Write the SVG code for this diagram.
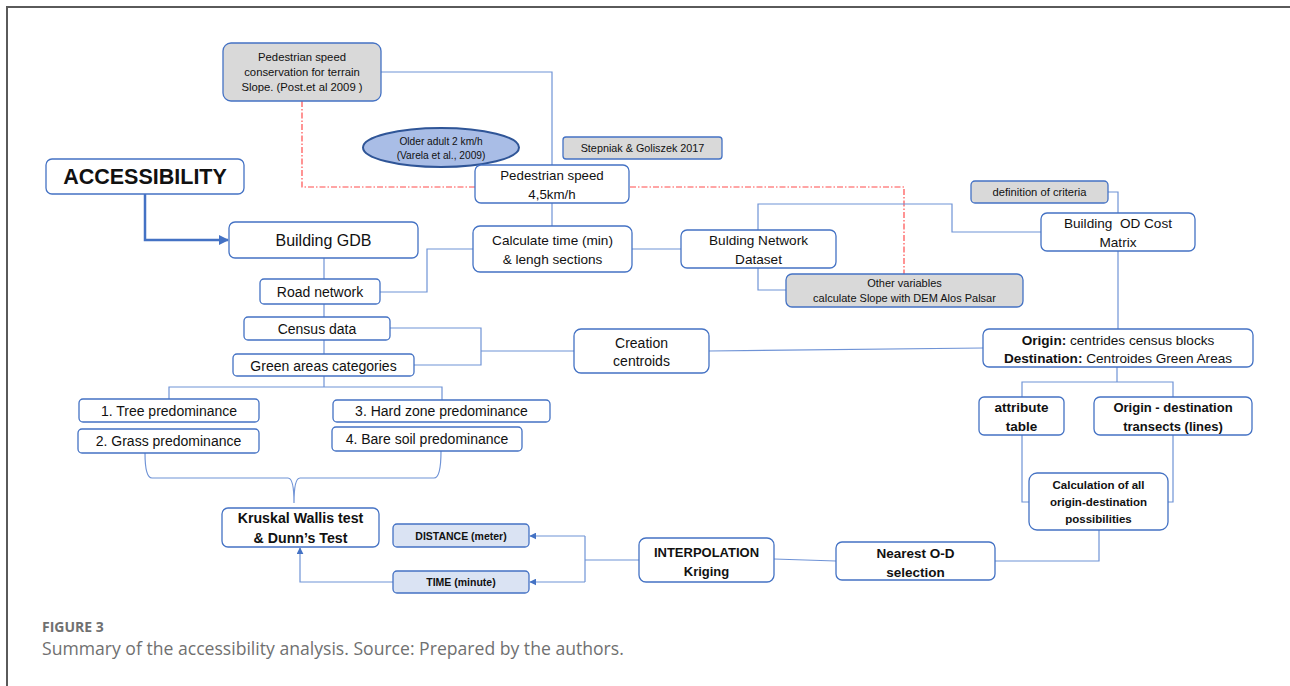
<svg xmlns="http://www.w3.org/2000/svg" width="1290" height="686" viewBox="0 0 1290 686">
<defs>
<marker id="ah" viewBox="0 0 10 10" refX="9" refY="5" markerWidth="7" markerHeight="7" orient="auto" markerUnits="userSpaceOnUse">
<path d="M0,0 L10,5 L0,10 z" fill="#4472c4"/>
</marker>
<marker id="ah2" viewBox="0 0 10 10" refX="9" refY="5" markerWidth="10" markerHeight="10" orient="auto" markerUnits="userSpaceOnUse">
<path d="M0,0 L10,5 L0,10 z" fill="#4472c4"/>
</marker>
<style>
.n{fill:#fff;stroke:#4472c4;stroke-width:1.3}
.g{fill:#d9d9d9;stroke:#4472c4;stroke-width:1.3}
.b{fill:#dae3f3;stroke:#4472c4;stroke-width:1.3}
.c{fill:none;stroke:#6f93d6;stroke-width:1.2}
.t{font-family:"Liberation Sans",Arial,sans-serif;fill:#111;text-anchor:middle;dominant-baseline:central}
.bd{font-weight:bold}
.cap{font-family:"Open Sans","Liberation Sans",sans-serif;fill:#707070}
</style>
</defs>
<rect x="0" y="0" width="1290" height="686" fill="#fff"/>
<path d="M7,686 V7 H1290" fill="none" stroke="#5a5a5a" stroke-width="2"/>

<g id="connectors">
<path class="c" d="M381,72 H552 V165"/>
<path d="M302,101 V187 H904 V274" fill="none" stroke="#ff4d4d" stroke-width="1.2" stroke-dasharray="6,2,1.5,2"/>
<path class="c" d="M552,203 V226"/>
<path d="M145,194 V240 H228" fill="none" stroke="#4472c4" stroke-width="2.5" marker-end="url(#ah2)"/>
<path class="c" d="M324,258 V279"/>
<path class="c" d="M380,292 H427 V249 H473"/>
<path class="c" d="M632,249 H681"/>
<path class="c" d="M758,230 V204 H952 V232 H1041"/>
<path class="c" d="M758,268 V290 H786"/>
<path class="c" d="M1108,192 H1118 V213"/>
<path class="c" d="M1118,251 V329"/>
<path class="c" d="M324,304 V317"/>
<path class="c" d="M324,340 V354"/>
<path class="c" d="M390,328 H481 V365 H414 M481,351 H574"/>
<path class="c" d="M709,351 L983,348"/>
<path class="c" d="M324,376 V387 M169,399 V387 H442 V400"/>
<path class="c" d="M145,453 Q145,478 152,478 L288,478 Q294,478 294,503 Q294,478 300,478 L434,478 Q441,478 441,451"/>
<path class="c" d="M1117,367 V382 M1022,397 V382 H1173 V397"/>
<path class="c" d="M1022,435 V502 H1029 M1173,435 V502 H1168"/>
<path class="c" d="M1099,530 V561 H995"/>
<path class="c" d="M836,561 L774,559"/>
<path class="c" d="M639,560 H585 M585,536 V582"/>
<path class="c" d="M585,536 H530" marker-end="url(#ah)"/>
<path class="c" d="M585,582 H530" marker-end="url(#ah)"/>
<path class="c" d="M393,582 H300 V548" marker-end="url(#ah)"/>
</g>

<g id="n-conservation"><rect class="g" x="223" y="43" width="158" height="58" rx="8"/>
<text class="t" font-size="11.3" x="302" y="57">Pedestrian speed</text>
<text class="t" font-size="11.3" x="302" y="72">conservation for terrain</text>
<text class="t" font-size="11.3" x="302" y="87">Slope. (Post.et al 2009 )</text></g>

<g id="n-older"><ellipse cx="441" cy="147.5" rx="78" ry="19.5" fill="#a9bde6" stroke="#2f5597" stroke-width="2"/>
<text class="t" font-size="10.2" x="441" y="141">Older adult 2 km/h</text>
<text class="t" font-size="10.2" x="441" y="155">(Varela et al., 2009)</text></g>

<g id="n-stepniak"><rect class="g" x="563" y="137" width="159" height="22" rx="3"/>
<text class="t" font-size="10.8" x="642.5" y="148">Stepniak &amp; Goliszek 2017</text></g>

<g id="n-pedspeed"><rect class="n" x="475" y="165" width="154" height="38" rx="6"/>
<text class="t" font-size="13.3" x="552" y="175">Pedestrian speed</text>
<text class="t" font-size="13.3" x="552" y="194">4,5km/h</text></g>

<g id="n-accessibility"><rect class="n" x="46" y="159" width="198" height="35" rx="6"/>
<text class="t bd" font-size="21.5" x="145" y="177">ACCESSIBILITY</text></g>

<g id="n-gdb"><rect class="n" x="229" y="222" width="189" height="36" rx="6"/>
<text class="t" font-size="16" x="323.5" y="240">Building GDB</text></g>

<g id="n-calc"><rect class="n" x="473" y="226" width="159" height="46" rx="7"/>
<text class="t" font-size="13.6" x="552.5" y="240">Calculate time (min)</text>
<text class="t" font-size="13.6" x="552.5" y="259">&amp; lengh sections</text></g>

<g id="n-network"><rect class="n" x="681" y="230" width="155" height="38" rx="6"/>
<text class="t" font-size="13.6" x="758.5" y="240">Bulding Network</text>
<text class="t" font-size="13.6" x="758.5" y="259">Dataset</text></g>

<g id="n-other"><rect class="g" x="786" y="274" width="237" height="33" rx="6"/>
<text class="t" font-size="11" x="904.5" y="283">Other variables</text>
<text class="t" font-size="11" x="904.5" y="298">calculate Slope with DEM Alos Palsar</text></g>

<g id="n-criteria"><rect class="g" x="971" y="181" width="137" height="22" rx="4"/>
<text class="t" font-size="11.2" x="1039.5" y="192">definition of criteria</text></g>

<g id="n-odmatrix"><rect class="n" x="1041" y="213" width="154" height="38" rx="6"/>
<text class="t" font-size="13.6" x="1118" y="223" style="white-space:pre">Building  OD Cost</text>
<text class="t" font-size="13.6" x="1118" y="242">Matrix</text></g>

<g id="n-origin"><rect class="n" x="983" y="329" width="270" height="38" rx="6"/>
<text class="t" font-size="13.6" x="1118" y="340"><tspan class="bd">Origin:</tspan> centrides census blocks</text>
<text class="t" font-size="13.6" x="1118" y="358"><tspan class="bd">Destination:</tspan> Centroides Green Areas</text></g>

<g id="n-creation"><rect class="n" x="574" y="329" width="135" height="44" rx="7"/>
<text class="t" font-size="14" x="641.5" y="343">Creation</text>
<text class="t" font-size="14" x="641.5" y="361">centroids</text></g>

<g id="n-road"><rect class="n" x="260" y="279" width="120" height="25" rx="4"/>
<text class="t" font-size="14" x="320" y="292">Road network</text></g>

<g id="n-census"><rect class="n" x="244" y="317" width="146" height="23" rx="4"/>
<text class="t" font-size="14" x="317" y="329">Census data</text></g>

<g id="n-green"><rect class="n" x="233" y="354" width="181" height="22" rx="4"/>
<text class="t" font-size="14" x="323.5" y="366">Green areas categories</text></g>

<g id="n-tree"><rect class="n" x="79" y="399" width="180" height="23" rx="4"/>
<text class="t" font-size="14" x="169" y="411">1. Tree predominance</text></g>

<g id="n-grass"><rect class="n" x="78" y="429" width="181" height="24" rx="4"/>
<text class="t" font-size="14" x="168.5" y="441">2. Grass predominance</text></g>

<g id="n-hard"><rect class="n" x="333" y="400" width="217" height="22" rx="4"/>
<text class="t" font-size="14" x="441.5" y="411">3. Hard zone predominance</text></g>

<g id="n-bare"><rect class="n" x="332" y="427" width="190" height="24" rx="4"/>
<text class="t" font-size="14" x="427" y="439">4. Bare soil predominance</text></g>

<g id="n-kruskal"><rect class="n" x="222" y="508" width="157" height="39" rx="6"/>
<text class="t bd" font-size="14.2" x="300.5" y="518">Kruskal Wallis test</text>
<text class="t bd" font-size="14.2" x="300.5" y="538">&amp; Dunn’s Test</text></g>

<g id="n-distance"><rect class="b" x="393" y="524" width="136" height="23" rx="4"/>
<text class="t bd" font-size="10.5" x="461" y="536">DISTANCE (meter)</text></g>

<g id="n-time"><rect class="b" x="393" y="571" width="136" height="22" rx="4"/>
<text class="t bd" font-size="10.5" x="461" y="582">TIME (minute)</text></g>

<g id="n-interp"><rect class="n" x="639" y="538" width="135" height="44" rx="7"/>
<text class="t bd" font-size="13" x="706.5" y="552">INTERPOLATION</text>
<text class="t bd" font-size="13" x="706.5" y="571">Kriging</text></g>

<g id="n-nearest"><rect class="n" x="836" y="542" width="159" height="38" rx="6"/>
<text class="t bd" font-size="13.5" x="915.5" y="553">Nearest O-D</text>
<text class="t bd" font-size="13.5" x="915.5" y="572">selection</text></g>

<g id="n-attr"><rect class="n" x="979" y="397" width="85" height="38" rx="5"/>
<text class="t bd" font-size="13.5" x="1021.5" y="407">attribute</text>
<text class="t bd" font-size="13.5" x="1021.5" y="426">table</text></g>

<g id="n-transects"><rect class="n" x="1094" y="397" width="158" height="38" rx="6"/>
<text class="t bd" font-size="13" x="1173" y="407">Origin - destination</text>
<text class="t bd" font-size="13" x="1173" y="426">transects (lines)</text></g>

<g id="n-calcall"><rect class="n" x="1029" y="473" width="139" height="57" rx="8"/>
<text class="t bd" font-size="11.5" x="1098.5" y="485">Calculation of all</text>
<text class="t bd" font-size="11.5" x="1098.5" y="502">origin-destination</text>
<text class="t bd" font-size="11.5" x="1098.5" y="519">possibilities</text></g>

<text class="cap" x="42" y="632" font-size="14" font-weight="bold">FIGURE 3</text>
<text class="cap" x="42" y="655" font-size="17.6">Summary of the accessibility analysis. Source: Prepared by the authors.</text>
</svg>
